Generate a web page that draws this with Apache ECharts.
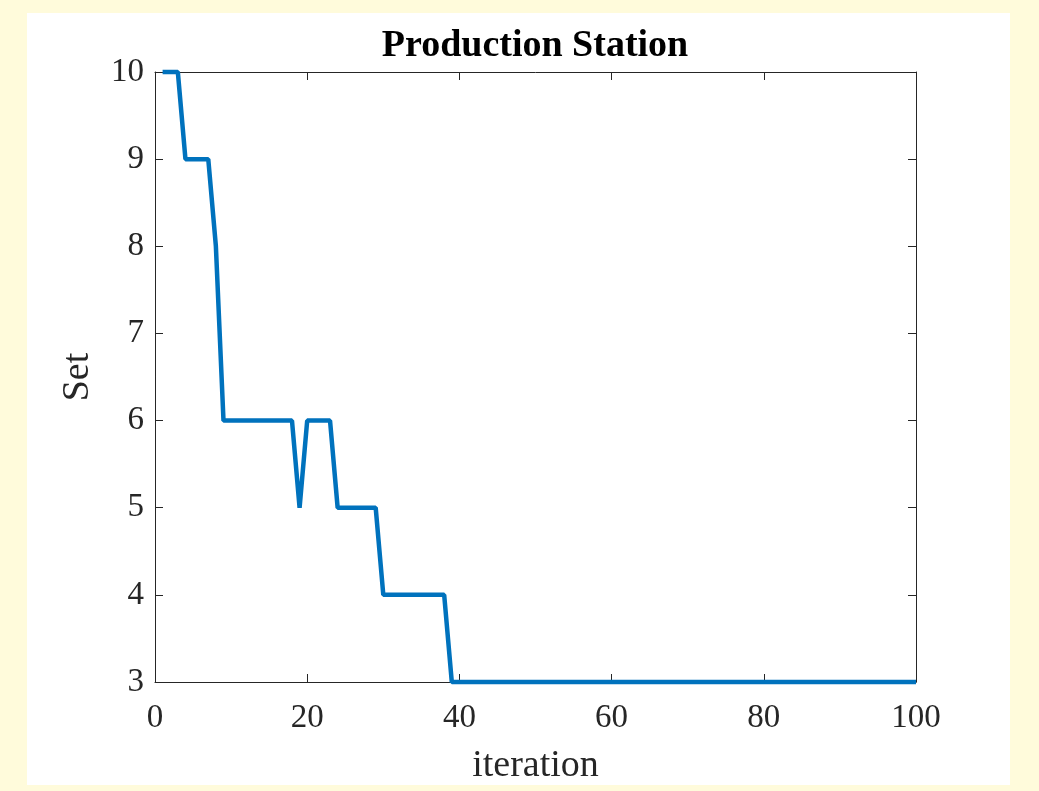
<!DOCTYPE html>
<html>
<head>
<meta charset="utf-8">
<script src="https://cdn.jsdelivr.net/npm/echarts@6/dist/echarts.min.js"></script>
<style>
  html, body { margin: 0; padding: 0; background: #fffbdb; }
  #panel { position: absolute; left: 27px; top: 13px; width: 983px; height: 772px; background: #fff; }
  #chart { position: absolute; left: 0; top: 0; width: 1039px; height: 791px; }
</style>
</head>
<body>
<div id="panel"></div>
<div id="chart"></div>
<script>
  // iteration -> Set value
  var iterations = [1, 2, 3, 4, 7, 8, 9, 18, 19, 20, 23, 24, 29, 30, 38, 39, 100]
  var setValues  = [10, 10, 10, 9, 9, 8, 6, 6, 5, 6, 6, 5, 5, 4, 4, 3, 3]
  var xTicks = [0, 20, 40, 60, 80, 100]
  var yTicks = [3, 4, 5, 6, 7, 8, 9, 10]

  var serif = '"Liberation Serif", "Times New Roman", serif'
  var axisColor = '#262626'

  var chart = echarts.init(document.getElementById('chart'))

  var baseX = {
    type: 'value',
    min: xTicks[0],
    max: xTicks[xTicks.length - 1],
    interval: 20,
    splitLine: { show: false },
    axisLine: { show: true, onZero: false, lineStyle: { color: axisColor, width: 1 } },
    axisTick: { show: true, inside: true, length: 8, lineStyle: { color: axisColor } }
  }
  var baseY = {
    type: 'value',
    min: yTicks[0],
    max: yTicks[yTicks.length - 1],
    interval: 1,
    splitLine: { show: false },
    axisLine: { show: true, onZero: false, lineStyle: { color: axisColor, width: 1 } },
    axisTick: { show: true, inside: true, length: 8, lineStyle: { color: axisColor } }
  }

  chart.setOption({
    backgroundColor: 'transparent',
    animation: false,
    title: {
      text: 'Production Station',
      left: 530,
      top: 22,
      textAlign: 'center',
      textStyle: { fontFamily: serif, fontSize: 38, fontWeight: 'bold', color: '#000' }
    },
    grid: { left: 155, right: 123, top: 72, bottom: 109 },
    xAxis: [
      Object.assign({}, baseX, {
        position: 'bottom',
        name: 'iteration',
        nameLocation: 'middle',
        nameGap: 65,
        nameTextStyle: { fontFamily: serif, fontSize: 38, color: '#262626' },
        axisLabel: { fontFamily: serif, fontSize: 33, color: '#262626', margin: 20 }
      }),
      Object.assign({}, baseX, { position: 'top', axisLabel: { show: false } })
    ],
    yAxis: [
      Object.assign({}, baseY, {
        position: 'left',
        name: 'Set',
        nameLocation: 'middle',
        nameGap: 58,
        nameTextStyle: { fontFamily: serif, fontSize: 38, color: '#262626' },
        axisLabel: { fontFamily: serif, fontSize: 33, color: '#262626', margin: 11 }
      }),
      Object.assign({}, baseY, { position: 'right', axisLabel: { show: false } })
    ],
    series: [
      {
        type: 'line',
        data: iterations.map(function (x, i) { return [x, setValues[i]] }),
        symbol: 'none',
        clip: false,
        lineStyle: { color: '#0072BD', width: 4.5 }
      }
    ]
  })
</script>
</body>
</html>
